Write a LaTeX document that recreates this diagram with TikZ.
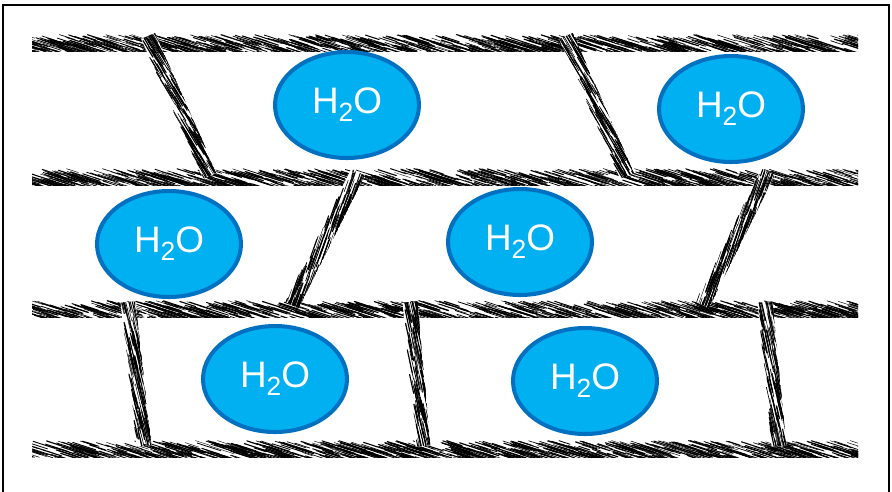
\documentclass[tikz,border=0pt]{standalone}
\usepackage{fontspec}
\newfontfamily\labelfont{Liberation Sans}
\usetikzlibrary{shapes.geometric}
\definecolor{waterfill}{HTML}{00B0F0}
\definecolor{waterrim}{HTML}{0070C0}
\tikzset{
  water/.style={ellipse, draw=waterrim, fill=waterfill, line width=2.3pt, inner sep=0pt,
      minimum width=2.88cm, minimum height=2.12cm, text=white,
      font=\labelfont\fontsize{21}{25}\selectfont},
  frame/.style={line width=1.1pt},
  strand/.style={line cap=round, black},
}
\newcommand\hho{H\raisebox{-.22em}{\fontsize{15}{15}\selectfont 2}O}
\newdimen\fibdx
\newdimen\fibdy
\makeatletter
% twisted fibre between two named points: #1 from, #2 to, #3 thickness (pt), #4 twist angle
\newcommand\fiber[4]{%
  \pgfpointdiff{\pgfpointanchor{#1}{center}}{\pgfpointanchor{#2}{center}}%
  \fibdx=\pgf@x \fibdy=\pgf@y
  \pgfmathsetmacro\fibang{atan2(\fibdy,\fibdx)}%
  \pgfmathsetmacro\fiblen{veclen(\fibdx,\fibdy)}%
  \pgfmathtruncatemacro\fibn{\fiblen*#3/5}%
  \begin{scope}[shift={(#1)}, rotate=\fibang, x=1pt, y=1pt]
    \fill[white] (0,-#3/2) rectangle (\fiblen,#3/2);
    \clip (0,-#3/2) rectangle (\fiblen,#3/2);
    \foreach \k in {1,...,\fibn}{
      \pgfmathsetmacro\sx{rnd*(\fiblen+12)-12}
      \pgfmathsetmacro\sy{(rnd-0.5)*#3}
      \pgfmathsetmacro\sl{6+rnd*12}
      \pgfmathsetmacro\sw{0.2+rnd*0.5}
      \draw[strand, line width=\sw pt] (\sx,\sy) -- ++(#4:\sl);
    }
  \end{scope}
}
\makeatother

\begin{document}
\begin{tikzpicture}[x=0.02cm, y=-0.02cm]
  \useasboundingbox (0,0) rectangle (892,491);
  \pgfmathsetseed{42}
  % frame
  \draw[frame] (3,500) -- (3,5) -- (889,5) -- (889,500);
  % horizontal strands
  \foreach \n/\y in {1/43, 2/177, 3/309, 4/449} {
    \coordinate (s\n l) at (32,\y);
    \coordinate (s\n r) at (858,\y);
  }
  \foreach \n in {1,...,4} {
    \fiber{s\n l}{s\n r}{9.6}{-18}
  }
  % cross fibres
  \coordinate (f1t) at (148,36);  \coordinate (f1b) at (210,176);
  \coordinate (f2t) at (566,36);  \coordinate (f2b) at (627,176);
  \coordinate (f3t) at (358,172); \coordinate (f3b) at (292,305);
  \coordinate (f4t) at (768,172); \coordinate (f4b) at (702,305);
  \coordinate (f5t) at (128,302); \coordinate (f5b) at (144,446);
  \coordinate (f6t) at (410,302); \coordinate (f6b) at (423,446);
  \coordinate (f7t) at (765,302); \coordinate (f7b) at (779,446);
  \foreach \n in {1,...,7} {
    \fiber{f\n t}{f\n b}{8.5}{7}
  }
  % water
  \node[water] (w1) at (347,105) {\hho};
  \node[water] (w2) at (731,109) {\hho};
  \node[water] (w3) at (169,244) {\hho};
  \node[water] (w4) at (520,242) {\hho};
  \node[water] (w5) at (275,379) {\hho};
  \node[water] (w6) at (585,381) {\hho};
\end{tikzpicture}
\end{document}
